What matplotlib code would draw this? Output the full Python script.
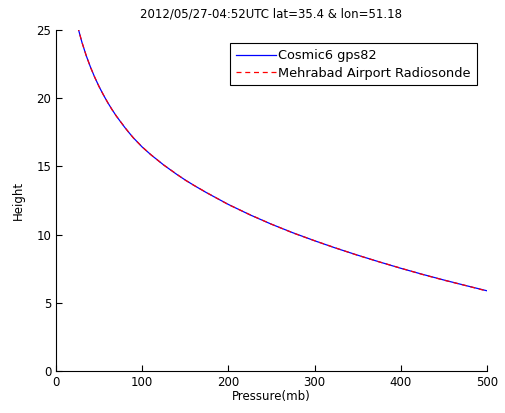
import matplotlib
matplotlib.use("Agg")
import matplotlib.pyplot as plt

# pressure levels (mb) and heights (km)
pressure = [25, 30, 35, 40, 45, 50, 55, 60, 65, 70, 80, 85, 90, 100, 110, 125, 140, 150, 160,
            175, 200, 225, 250, 275, 300, 325, 350, 375, 400, 425, 450, 475, 500]
height_cosmic = [25.28, 24.12, 23.13, 22.28, 21.52, 20.85, 20.24, 19.68, 19.17, 18.69, 17.84,
                 17.45, 17.08, 16.42, 15.86, 15.10, 14.42, 14.00, 13.61, 13.06, 12.21, 11.45,
                 10.76, 10.13, 9.55, 9.00, 8.49, 8.00, 7.53, 7.09, 6.67, 6.27, 5.88]
height_sonde = [25.28, 24.12, 23.14, 22.27, 21.53, 20.84, 20.25, 19.68, 19.16, 18.69, 17.85,
                17.45, 17.07, 16.43, 15.86, 15.10, 14.43, 13.99, 13.61, 13.07, 12.20, 11.46,
                10.76, 10.12, 9.55, 9.01, 8.48, 8.00, 7.54, 7.08, 6.66, 6.27, 5.86]

title = "2012/05/27-04:52UTC lat=35.4 & lon=51.18"

plt.rcParams["font.family"] = ["DejaVu Sans"]
plt.rcParams["font.size"] = 8.5

fig = plt.figure(figsize=(5.05, 4.13), dpi=100)
ax = fig.add_axes([56 / 505, 42 / 413, 431 / 505, 341 / 413])

ax.plot(pressure, height_cosmic, color="#0000ff", linewidth=0.9, label="Cosmic6 gps82")
ax.plot(pressure, height_sonde, color="#ff0000", linewidth=0.9, linestyle=(0, (4, 3)),
        label="Mehrabad Airport Radiosonde")

ax.set_xlim(0, 500)
ax.set_ylim(0, 25)
ax.set_xticks([0, 100, 200, 300, 400, 500])
ax.set_yticks([0, 5, 10, 15, 20, 25])
ax.tick_params(direction="in", length=4, width=0.8, colors="black", labelsize=8.5)
ax.spines["top"].set_visible(False)
ax.spines["right"].set_visible(False)
for s in ("left", "bottom"):
    ax.spines[s].set_linewidth(0.8)

ax.set_xlabel("Pressure(mb)", labelpad=1)
ax.set_ylabel("Height", labelpad=8)
ax.set_title(title, fontsize=8.5, pad=9)

leg = ax.legend(loc="upper right", bbox_to_anchor=(0.991, 0.98), fancybox=False,
                edgecolor="black", framealpha=1, handlelength=3.1, borderpad=0.45,
                labelspacing=0.35, handletextpad=0.2, fontsize=9.3)
leg.get_frame().set_linewidth(0.8)

fig.savefig("out.png", dpi=100)
